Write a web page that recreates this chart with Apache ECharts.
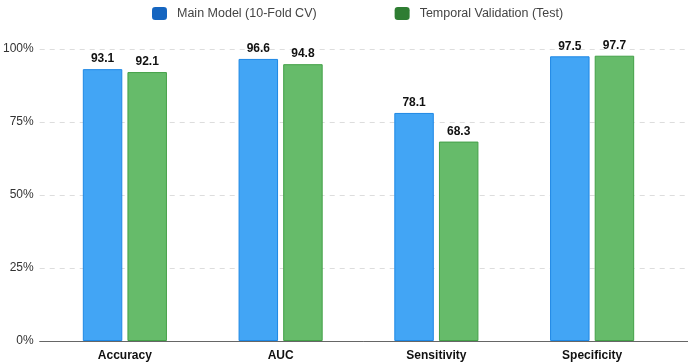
<!DOCTYPE html>
<html>
<head>
<meta charset="utf-8">
<script src="https://cdn.jsdelivr.net/npm/echarts@6/dist/echarts.min.js"></script>
<style>
  html, body { margin: 0; padding: 0; background: #fff; }
  #chart { width: 688px; height: 364px; }
</style>
</head>
<body>
<div id="chart"></div>
<script>
var categories = ['Accuracy', 'AUC', 'Sensitivity', 'Specificity'];
var mainModel = [93.1, 96.6, 78.1, 97.5];      // 10-fold CV
var temporalTest = [92.1, 94.8, 68.3, 97.7];   // temporal validation
var yTicks = [0, 25, 50, 75, 100];

var myChart = echarts.init(document.getElementById('chart'));

var labelStyle = {
  show: true,
  position: 'top',
  distance: 4,
  fontWeight: 'bold',
  fontSize: 12,
  color: '#111',
  formatter: function (p) { return p.value.toFixed(1); }
};

var option = {
  textStyle: { fontFamily: 'Liberation Sans, Arial, sans-serif' },
  legend: {
    top: 2,
    left: 147,
    itemWidth: 15,
    itemHeight: 13,
    itemGap: 78,
    icon: 'roundRect',
    textStyle: { fontSize: 12.5, color: '#444', padding: [0, 0, 0, 5] },
    data: [
      { name: 'Main Model (10-Fold CV)', itemStyle: { color: '#1565C0', borderWidth: 0 } },
      { name: 'Temporal Validation (Test)', itemStyle: { color: '#2E7D32', borderWidth: 0 } }
    ]
  },
  // grid 0: full width, carries gridlines, y labels and baseline
  // grid 1: inset, carries the bars and category labels
  grid: [
    { left: 36, right: 0, top: 49, bottom: 23 },
    { left: 47, right: 18, top: 49, bottom: 23 }
  ],
  xAxis: [
    {
      gridIndex: 0,
      type: 'category',
      data: [''],
      axisTick: { show: false },
      axisLabel: { show: false },
      axisLine: { lineStyle: { color: '#666', width: 1 } }
    },
    {
      gridIndex: 1,
      type: 'category',
      data: categories,
      axisTick: { show: false },
      axisLine: { show: false },
      axisLabel: { fontWeight: 'bold', fontSize: 12, color: '#111', margin: 9 }
    }
  ],
  yAxis: [
    {
      gridIndex: 0,
      type: 'value',
      min: yTicks[0],
      max: yTicks[yTicks.length - 1],
      interval: 25,
      axisLine: { show: false },
      axisTick: { show: false },
      axisLabel: { fontSize: 12, color: '#333', margin: 6, formatter: '{value}%' },
      splitLine: { lineStyle: { color: '#ddd', type: [5, 5] } }
    },
    {
      gridIndex: 1,
      type: 'value',
      min: yTicks[0],
      max: yTicks[yTicks.length - 1],
      interval: 25,
      show: false
    }
  ],
  series: [
    {
      name: 'Main Model (10-Fold CV)',
      type: 'bar',
      xAxisIndex: 1,
      yAxisIndex: 1,
      data: mainModel,
      barGap: '13%',
      barCategoryGap: '46%',
      itemStyle: { color: '#42A5F5', borderColor: '#1E88E5', borderWidth: 1 },
      label: labelStyle
    },
    {
      name: 'Temporal Validation (Test)',
      type: 'bar',
      xAxisIndex: 1,
      yAxisIndex: 1,
      data: temporalTest,
      itemStyle: { color: '#66BB6A', borderColor: '#43A047', borderWidth: 1 },
      label: labelStyle
    }
  ]
};

myChart.setOption(option);
</script>
</body>
</html>
